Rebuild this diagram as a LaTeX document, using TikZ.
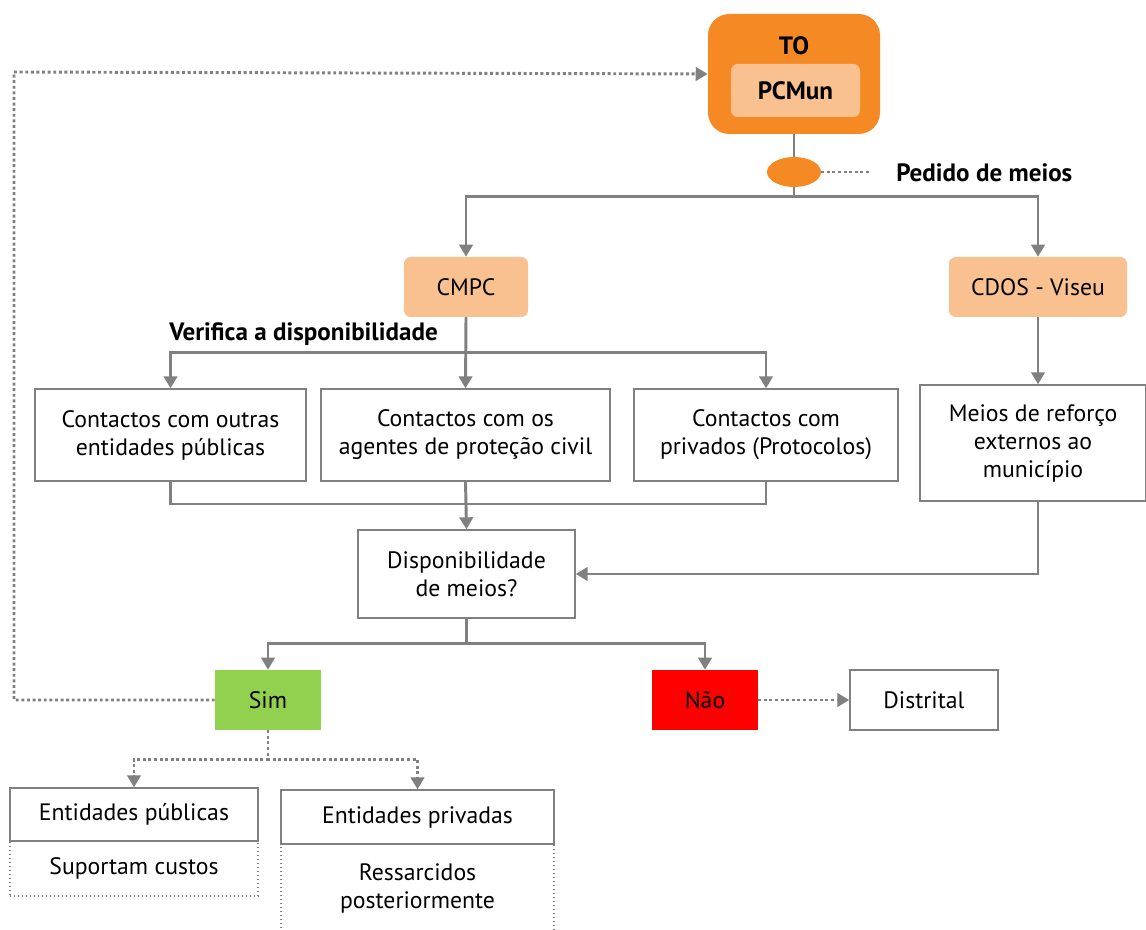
\documentclass[tikz,border=0pt]{standalone}
\usepackage{fontspec}
\setmainfont{PT Sans}
\usetikzlibrary{arrows.meta,shapes.geometric}
\definecolor{lg}{HTML}{808080}
\definecolor{orng}{HTML}{F58A25}
\definecolor{lorng}{HTML}{F9C18F}
\definecolor{grn}{HTML}{92D050}
\definecolor{rd}{HTML}{FF0000}
\tikzset{
  conn/.style={draw=lg,line width=2.2pt},
  arr/.style={conn,-{Triangle[length=9pt,width=10pt]}},
  dotc/.style={draw=lg,line width=2.2pt,dotted},
  darr/.style={dotc,-{Triangle[length=9pt,width=10pt]}},
  wbox/.style={draw=lg,line width=1pt,fill=white,align=center,inner sep=0pt,font=\fontsize{17.8}{21}\selectfont},
  dbox/.style={draw=lg,line width=1pt,dotted,fill=white,align=center,inner sep=0pt,font=\fontsize{17.8}{21}\selectfont},
  obox/.style={fill=lorng,rounded corners=5pt,align=center,inner sep=0pt,font=\fontsize{17.8}{21}\selectfont},
  blbl/.style={font=\bfseries\fontsize{18.8}{21}\selectfont,inner sep=0pt},
}
\begin{document}
\begin{tikzpicture}[x=0.75pt,y=-0.75pt]
\useasboundingbox (0,0) rectangle (1146,930);
% TO
\node[fill=orng,rounded corners=16pt,minimum width=172*0.75pt,minimum height=120*0.75pt,inner sep=0pt] (to) at (794,74) {};
\node[blbl] (tot) at (794,46) {TO};
\node[obox,minimum width=129*0.75pt,minimum height=53*0.75pt,font=\bfseries\fontsize{18.8}{21}\selectfont] (pcm) at (795.5,90.5) {PCMun};
% ellipse
\node[ellipse,fill=orng,minimum width=54*0.75pt,minimum height=30*0.75pt,inner sep=0pt] (ell) at (794,172) {};
\coordinate (pe) at (870,172);
\node[blbl,anchor=west] (ped) at (896,173) {Pedido de meios};
% CMPC, CDOS
\node[obox,minimum width=124*0.75pt,minimum height=60*0.75pt] (cmpc) at (466,287) {CMPC};
\node[obox,minimum width=178*0.75pt,minimum height=60*0.75pt] (cdos) at (1038,287) {CDOS - Viseu};
\node[blbl,anchor=west] (ver) at (169,334) {Verifica a disponibilidade};
% contact boxes
\node[wbox,minimum width=271*0.75pt,minimum height=92*0.75pt] (b1) at (170.5,435) {Contactos com outras\\entidades públicas};
\node[wbox,minimum width=289*0.75pt,minimum height=92*0.75pt] (b2) at (465.5,435) {Contactos com os\\agentes de proteção civil};
\node[wbox,minimum width=264*0.75pt,minimum height=92*0.75pt] (b3) at (766,435) {Contactos com\\privados (Protocolos)};
\node[wbox,minimum width=226*0.75pt,minimum height=116*0.75pt] (b4) at (1033,443) {Meios de reforço\\externos ao\\município};
% disp
\node[wbox,minimum width=217*0.75pt,minimum height=88*0.75pt] (disp) at (466.5,574) {Disponibilidade\\de meios?};
% sim nao
\node[fill=grn,minimum width=106*0.75pt,minimum height=60*0.75pt,inner sep=0pt,font=\fontsize{17.8}{21}\selectfont] (sim) at (268,700) {Sim};
\node[fill=rd,minimum width=106*0.75pt,minimum height=60*0.75pt,inner sep=0pt,font=\fontsize{17.8}{21}\selectfont] (nao) at (705,700) {Não};
\node[wbox,minimum width=148*0.75pt,minimum height=60*0.75pt] (dist) at (924,700) {Distrital};
% entidades
\node[dbox,minimum width=248*0.75pt,minimum height=55*0.75pt] (sup) at (134,868.5) {Suportam custos};
\node[wbox,minimum width=248*0.75pt,minimum height=53*0.75pt] (pub) at (134,814.5) {Entidades públicas};
\node[dbox,minimum width=273*0.75pt,minimum height=90*0.75pt] (res) at (417.5,888) {Ressarcidos\\posteriormente};
\node[wbox,minimum width=273*0.75pt,minimum height=54*0.75pt] (priv) at (417.5,817) {Entidades privadas};
% connectors
\draw[conn] (to.south) -- (ell.north);
\draw[dotc] (ell.east) -- (pe);
\draw[arr] (ell.south) -- ++(0,9) -| (cmpc.north);
\draw[arr] (ell.south) -- ++(0,9) -| (cdos.north);
\draw[arr] (cmpc.south) -- ++(0,35) -| (b1.north);
\draw[arr] (cmpc.south) -- (b2.north);
\draw[arr] (cmpc.south) -- ++(0,35) -| (b3.north);
\draw[arr] (cdos.south) -- (b4.north -| cdos.south);
\draw[conn] (b1.south) |- (465.5,504) -| (b3.south);
\draw[arr] (b2.south) -- (disp.north);
\draw[arr] (b4.south -| cdos.south) |- (disp.east);
\draw[arr] (disp.south) -- ++(0,25) -| (sim.north);
\draw[arr] (disp.south) -- ++(0,25) -| (nao.north);
\draw[darr] (nao.east) -- (dist.west);
\draw[darr] (sim.west) -| (14,72) -- (to.west);
\draw[darr] (sim.south) -- ++(0,29) -| (pub.north);
\draw[darr] (sim.south) -- ++(0,29) -| (priv.north);
\end{tikzpicture}
\end{document}
